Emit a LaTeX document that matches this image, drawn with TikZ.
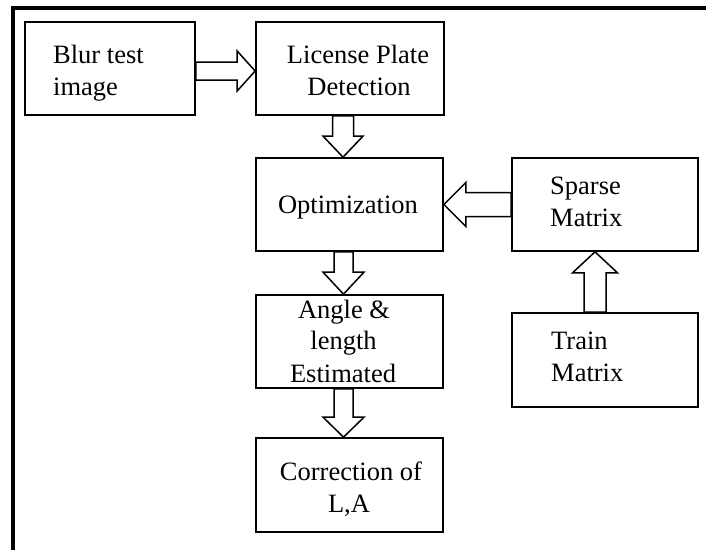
\documentclass[tikz,border=0pt]{standalone}
\usepackage{fontspec}
\setmainfont{Liberation Serif}
\usetikzlibrary{calc}
\tikzset{
  box/.style={draw, line width=1.7pt, inner sep=0pt},
  lbl/.style={inner sep=0pt, font=\fontsize{26.5}{32}\selectfont},
  blockarr/.style={draw, fill=white, line width=1.5pt, line join=miter},
  outerframe/.style={line width=3.8pt}
}
% #1 start, #2 tip, #3 shaft half width, #4 head half width, #5 head length
\newcommand\BlkArrow[5]{%
  \coordinate (ba-n) at ($(#2)!#5pt!(#1)$);
  \draw[blockarr] ($(#1)!#3pt!90:(#2)$) -- ($(ba-n)!#3pt!90:(#2)$)
    -- ($(ba-n)!#4pt!90:(#2)$) -- (#2) -- ($(ba-n)!#4pt!-90:(#2)$)
    -- ($(ba-n)!#3pt!-90:(#2)$) -- ($(#1)!#3pt!-90:(#2)$) -- cycle;
}
\begin{document}
\begin{tikzpicture}[x=1pt,y=-1pt]
\useasboundingbox (0,0) rectangle (706,549);
\fill[white] (0,0) rectangle (706,549);
\draw[outerframe] (13,552) -- (13,8) -- (709,8);

\node[box, minimum width=170pt, minimum height=93pt] (blur) at (110,68.5) {};
\node[box, minimum width=188pt, minimum height=93pt] (lpd) at (350,68.5) {};
\node[box, minimum width=187pt, minimum height=93pt] (opt) at (349.5,204.5) {};
\node[box, minimum width=186pt, minimum height=93pt] (sparse) at (605,204.5) {};
\node[box, minimum width=187pt, minimum height=93pt] (angle) at (349.5,341.5) {};
\node[box, minimum width=186pt, minimum height=94pt] (train) at (605,360) {};
\node[box, minimum width=187pt, minimum height=94pt] (corr) at (349.5,485) {};

\node[lbl, anchor=base west] (t1a) at (53,63) {Blur test};
\node[lbl, anchor=base west] (t1b) at (53,95) {image};
\node[lbl, anchor=base] (t2a) at (358,63) {License Plate};
\node[lbl, anchor=base] (t2b) at (359,95) {Detection};
\node[lbl, anchor=base] (t3) at (348,213) {Optimization};
\node[lbl, anchor=base west] (t4a) at (550,194) {Sparse};
\node[lbl, anchor=base west] (t4b) at (550,226) {Matrix};
\node[lbl, anchor=base] (t5a) at (344,318) {Angle \&};
\node[lbl, anchor=base] (t5b) at (343.5,349) {length};
\node[lbl, anchor=base] (t5c) at (343,382) {Estimated};
\node[lbl, anchor=base west] (t6a) at (551,349) {Train};
\node[lbl, anchor=base west] (t6b) at (551,381) {Matrix};
\node[lbl, anchor=base] (t7a) at (351,480) {Correction of};
\node[lbl, anchor=base] (t7b) at (349,512) {L,A};

\coordinate (a1s) at ($(blur.east)+(0,2.5)$);
\coordinate (a1t) at ($(lpd.west)+(0,2.5)$);
\coordinate (a2s) at ($(lpd.south)+(-7,0)$);
\coordinate (a2t) at ($(opt.north)+(-6.5,0)$);
\coordinate (a3s) at (sparse.west);
\coordinate (a3t) at (opt.east);
\coordinate (a4s) at ($(opt.south)+(-6,0)$);
\coordinate (a4t) at ($(angle.north)+(-6,0)$);
\coordinate (a5s) at ($(train.north)+(-10,0)$);
\coordinate (a5t) at ($(sparse.south)+(-10,0)$);
\coordinate (a6s) at ($(angle.south)+(-6,0)$);
\coordinate (a6t) at ($(corr.north)+(-6,0)$);

\BlkArrow{a1s}{a1t}{9}{20}{18}
\BlkArrow{a2s}{a2t}{10.5}{20}{21}
\BlkArrow{a3s}{a3t}{12}{22}{22}
\BlkArrow{a4s}{a4t}{9.5}{20.5}{22}
\BlkArrow{a5s}{a5t}{11}{22.5}{21}
\BlkArrow{a6s}{a6t}{9.5}{20.5}{20}
\end{tikzpicture}
\end{document}
